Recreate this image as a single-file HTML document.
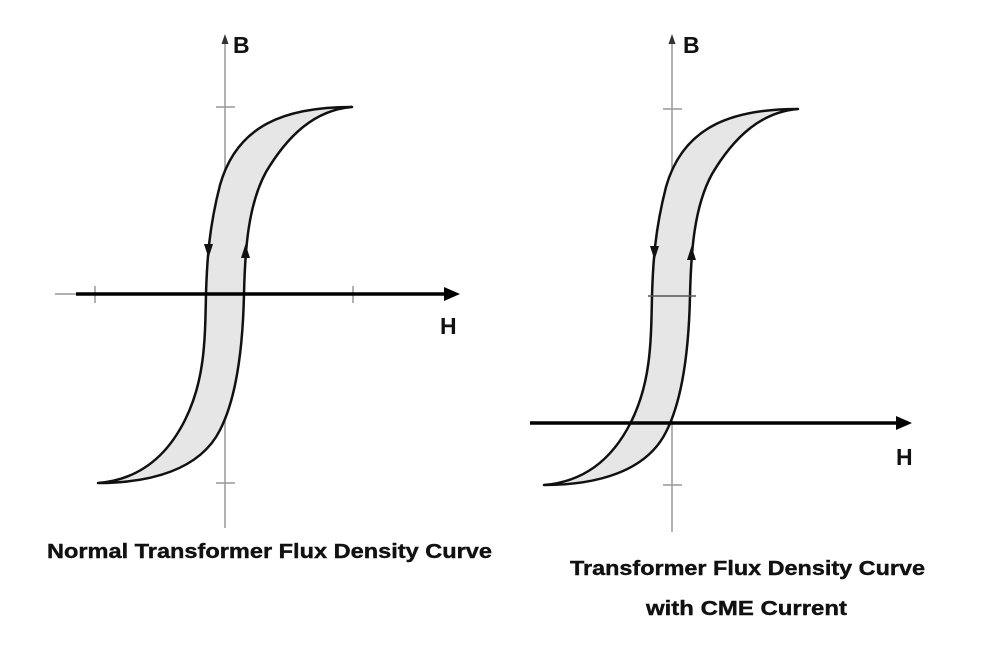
<!DOCTYPE html>
<html><head><meta charset="utf-8"><style>
html,body{margin:0;padding:0;background:#fff}
svg{display:block}
text{font-family:"Liberation Sans",sans-serif;font-weight:bold;fill:#111}
</style></head><body>
<svg width="1000" height="651" viewBox="0 0 1000 651" xmlns="http://www.w3.org/2000/svg">
<defs>
<g id="loop">
  <path d="M352,107 C285,107 237,125 220,185 C209,228 207,260 206,294 C205,340 205,380 185,420 C165,460 135,480 98,483 C150,483 200,470 220,430 C238,395 243,340 244,294 C245,250 248,205 266,172 C288,135 315,110 352,107 Z" fill="#e6e6e6" stroke="#111" stroke-width="2.5" stroke-linejoin="round"/>
  <polygon points="204,244 213,244 208.5,258" fill="#111"/>
  <polygon points="241,258 250,258 245.5,244" fill="#111"/>
</g>
</defs>

<!-- Left chart -->
<line x1="225" y1="40" x2="225" y2="528" stroke="#999" stroke-width="1.5"/>
<polygon points="225,34 221.5,44 228.5,44" fill="#333"/>
<line x1="216" y1="107" x2="235" y2="107" stroke="#999" stroke-width="1.5"/>
<line x1="216" y1="483" x2="235" y2="483" stroke="#999" stroke-width="1.5"/>
<line x1="95" y1="286" x2="95" y2="303" stroke="#999" stroke-width="1.5"/>
<line x1="353" y1="286" x2="353" y2="303" stroke="#999" stroke-width="1.5"/>
<line x1="55" y1="294" x2="76" y2="294" stroke="#999" stroke-width="1.5"/>
<use href="#loop"/>
<line x1="76" y1="294" x2="446" y2="294" stroke="#000" stroke-width="3.5"/>
<polygon points="460,294 444,287 444,301" fill="#000"/>
<text x="233" y="53" font-size="23">B</text>
<text x="440" y="334" font-size="23">H</text>
<text x="47" y="558" font-size="20" textLength="445" lengthAdjust="spacingAndGlyphs" stroke="#111" stroke-width="0.4">Normal Transformer Flux Density Curve</text>

<!-- Right chart -->
<line x1="672" y1="40" x2="672" y2="532" stroke="#999" stroke-width="1.5"/>
<polygon points="672,34 668.5,44 675.5,44" fill="#333"/>
<line x1="663" y1="109" x2="682" y2="109" stroke="#999" stroke-width="1.5"/>
<line x1="663" y1="485" x2="682" y2="485" stroke="#999" stroke-width="1.5"/>
<g transform="translate(446,2)"><use href="#loop"/></g>
<line x1="648" y1="296" x2="696" y2="296" stroke="#555" stroke-width="1.5"/>
<line x1="530" y1="423" x2="898" y2="423" stroke="#000" stroke-width="3.5"/>
<polygon points="912,423 896,416 896,430" fill="#000"/>
<text x="683" y="53" font-size="23">B</text>
<text x="896" y="465" font-size="23">H</text>
<text x="570" y="575" font-size="20" textLength="355" lengthAdjust="spacingAndGlyphs" stroke="#111" stroke-width="0.4">Transformer Flux Density Curve</text>
<text x="646" y="615" font-size="20" textLength="201" lengthAdjust="spacingAndGlyphs" stroke="#111" stroke-width="0.4">with CME Current</text>
</svg>
</body></html>
